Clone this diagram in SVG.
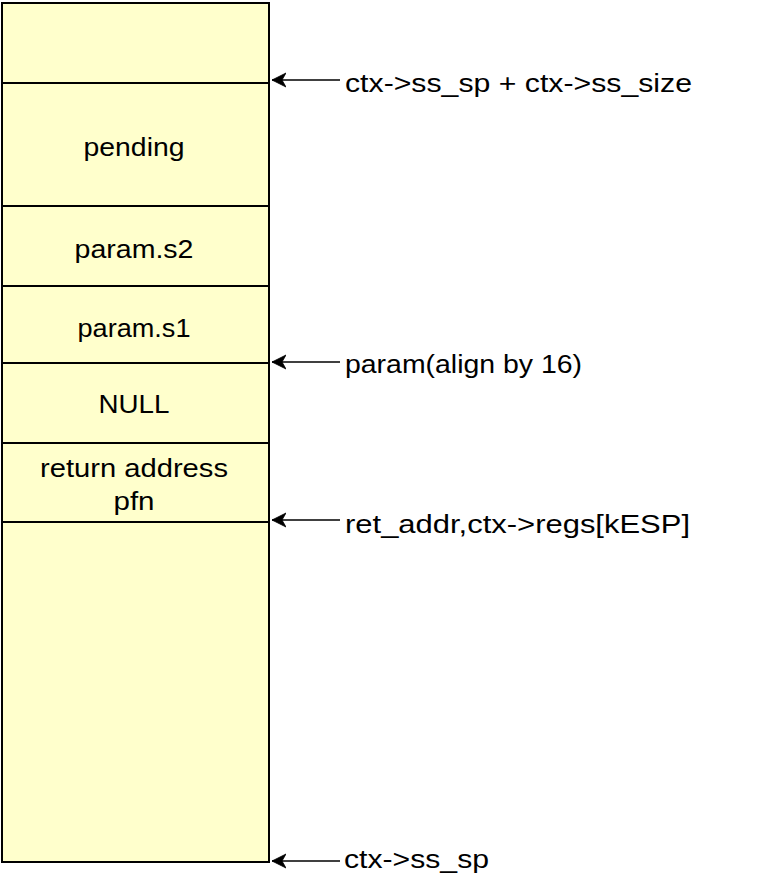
<svg xmlns="http://www.w3.org/2000/svg" width="780" height="882" viewBox="0 0 780 882">
<defs>
<marker id="arr" markerWidth="16" markerHeight="16" refX="14" refY="8" orient="auto" markerUnits="userSpaceOnUse">
<path d="M14,8 L0,1 L4,8 L0,15 Z" fill="#000" stroke="#000" stroke-width="0.8" stroke-linejoin="miter"/>
</marker>
<style>
.cell{fill:#FFFFCC;stroke:#000;stroke-width:2}
.sep{stroke:#000;stroke-width:2;fill:none}
.t{font-family:"Liberation Sans",Arial,sans-serif;font-size:25px;fill:#000}
.c{text-anchor:middle}
.conn{stroke:#000;stroke-width:1.7;fill:none;marker-end:url(#arr)}
</style>
</defs>
<rect width="780" height="882" fill="#fff"/>
<g id="stack">
<rect class="cell" x="2" y="3" width="267" height="859"/>
</g>
<g id="sep-lines">
<line class="sep" x1="2" y1="83" x2="269" y2="83"/>
<line class="sep" x1="2" y1="206" x2="269" y2="206"/>
<line class="sep" x1="2" y1="286" x2="269" y2="286"/>
<line class="sep" x1="2" y1="363" x2="269" y2="363"/>
<line class="sep" x1="2" y1="443" x2="269" y2="443"/>
<line class="sep" x1="2" y1="522" x2="269" y2="522"/>
</g>
<g id="node-pending"><text class="t c" x="134" y="156" textLength="101" lengthAdjust="spacingAndGlyphs">pending</text></g>
<g id="node-param-s2"><text class="t c" x="134" y="258" textLength="119" lengthAdjust="spacingAndGlyphs">param.s2</text></g>
<g id="node-param-s1"><text class="t c" x="134" y="337" textLength="113" lengthAdjust="spacingAndGlyphs">param.s1</text></g>
<g id="node-null"><text class="t c" x="134" y="413" textLength="71" lengthAdjust="spacingAndGlyphs">NULL</text></g>
<g id="node-ret"><text class="t c" x="134" y="477" textLength="188" lengthAdjust="spacingAndGlyphs">return address</text><text class="t c" x="134" y="510" textLength="41" lengthAdjust="spacingAndGlyphs">pfn</text></g>
<g id="connectors">
<line class="conn" x1="340" y1="80" x2="272" y2="80"/>
<line class="conn" x1="340" y1="362" x2="272" y2="362"/>
<line class="conn" x1="340" y1="520" x2="272" y2="520"/>
<line class="conn" x1="340" y1="861" x2="272" y2="861"/>
</g>
<g id="label-top"><text class="t" x="345" y="92" textLength="347" lengthAdjust="spacingAndGlyphs">ctx-&gt;ss_sp + ctx-&gt;ss_size</text></g>
<g id="label-param"><text class="t" x="345" y="373" textLength="237" lengthAdjust="spacingAndGlyphs">param(align by 16)</text></g>
<g id="label-ret"><text class="t" x="345" y="533" textLength="345" lengthAdjust="spacingAndGlyphs">ret_addr,ctx-&gt;regs[kESP]</text></g>
<g id="label-sp"><text class="t" x="344" y="868" textLength="145" lengthAdjust="spacingAndGlyphs">ctx-&gt;ss_sp</text></g>
</svg>
